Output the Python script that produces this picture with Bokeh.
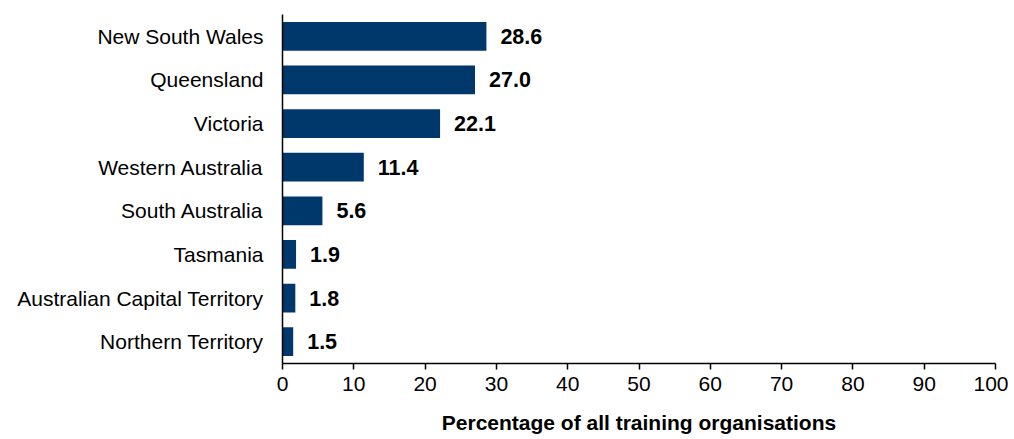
from bokeh.plotting import figure
from bokeh.models import ColumnDataSource, FactorRange, Range1d, LabelSet
from bokeh.core.properties import value
from bokeh.embed import file_html
from bokeh.resources import INLINE

states = ["New South Wales", "Queensland", "Victoria", "Western Australia",
          "South Australia", "Tasmania", "Australian Capital Territory", "Northern Territory"]
values = [28.6, 27.0, 22.1, 11.4, 5.6, 1.9, 1.8, 1.5]
labels = [f"{v:.1f}" for v in values]

src = ColumnDataSource(dict(state=states, value=values, label=labels))

W, H = 1008, 439
p = figure(width=W, height=H, output_backend="svg", toolbar_location=None,
           y_range=FactorRange(factors=list(reversed(states))),
           x_range=Range1d(0, 100))
p.min_border_left = 282
p.min_border_right = 13
p.min_border_top = 14
p.min_border_bottom = 76
p.outline_line_color = None
p.background_fill_color = "white"
p.border_fill_color = "white"

p.hbar(y="state", right="value", left=0, height=0.66, source=src,
       fill_color="#00386b", line_color=None)

lab = LabelSet(x="value", y="state", text="label", source=src, x_offset=14,
               text_baseline="middle", text_font=value("Liberation Sans"),
               text_font_style="bold", text_font_size="21.5px", text_color="black")
p.add_layout(lab)

p.xgrid.grid_line_color = None
p.ygrid.grid_line_color = None

p.xaxis.ticker = list(range(0, 101, 10))
p.xaxis.axis_line_color = "black"
p.xaxis.axis_line_width = 1.5
p.xaxis.major_tick_line_color = "black"
p.xaxis.major_tick_line_width = 1.5
p.xaxis.major_tick_out = 6
p.xaxis.major_tick_in = 0
p.xaxis.minor_tick_line_color = None
p.xaxis.major_label_text_font = "Liberation Sans"
p.xaxis.major_label_text_font_size = "21px"
p.xaxis.major_label_text_color = "black"
p.xaxis.major_label_standoff = 7
p.xaxis.axis_label = "Percentage of all training organisations"
p.xaxis.axis_label_text_font = "Liberation Sans"
p.xaxis.axis_label_text_font_style = "bold"
p.xaxis.axis_label_text_font_size = "21px"
p.xaxis.axis_label_text_color = "black"
p.xaxis.axis_label_standoff = 17

p.yaxis.axis_line_color = "black"
p.yaxis.axis_line_width = 1.5
p.yaxis.major_tick_line_color = None
p.yaxis.major_tick_out = 0
p.yaxis.major_tick_in = 0
p.yaxis.minor_tick_line_color = None
p.yaxis.major_label_text_font = "Liberation Sans"
p.yaxis.major_label_text_font_size = "21px"
p.yaxis.major_label_text_color = "black"
p.yaxis.major_label_standoff = 19

open("out.html", "w").write(file_html(p, INLINE))
